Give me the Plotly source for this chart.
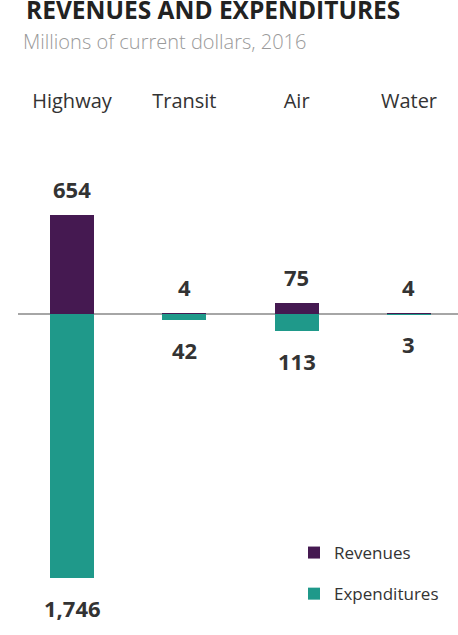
import plotly.graph_objects as go

categories = ["Highway", "Transit", "Air", "Water"]
revenues = [654, 4, 75, 4]
expenditures = [1746, 42, 113, 3]

REV_COLOR = "#451951"
EXP_COLOR = "#1f998a"
FONT = "Open Sans"

W, H = 458, 635
L, R, T, B = 18, 0, 113, 0
ZERO_PX = 314
PX_PER_UNIT = 99 / 654

ymax = (ZERO_PX - T) / PX_PER_UNIT
ymin = -((H - B) - ZERO_PX) / PX_PER_UNIT

fig = go.Figure()
fig.add_trace(go.Bar(
    x=list(range(len(categories))), y=revenues, name="Revenues",
    marker=dict(color=REV_COLOR, line=dict(width=0)), width=0.392,
    legendgroup="r", hoverinfo="skip",
))
fig.add_trace(go.Bar(
    x=list(range(len(categories))), y=[-v for v in expenditures], name="Expenditures",
    marker=dict(color=EXP_COLOR, line=dict(width=0)), width=0.392,
    legendgroup="e", hoverinfo="skip",
))

label_font = dict(family=FONT, size=22, color="#333333", weight="bold")
annotations = []
for i, v in enumerate(revenues):
    annotations.append(dict(x=i, y=v, xref="x", yref="y", text=f"{v:,}",
                            showarrow=False, yshift=26, yanchor="middle", font=label_font))
for i, v in enumerate(expenditures):
    annotations.append(dict(x=i, y=-v, xref="x", yref="y", text=f"{v:,}",
                            showarrow=False, yshift=-30, yanchor="middle", font=label_font))

plot_h = H - T - B
annotations.append(dict(
    x=(21 - L) / (W - L - R), y=(H - B - 42) / plot_h, xref="paper", yref="paper",
    xanchor="left", yanchor="middle", showarrow=False,
    text="Millions of current dollars, 2016",
    font=dict(family=FONT, size=20, color="#9a9a9a", weight=300),
))

fig.update_layout(
    width=W, height=H,
    margin=dict(l=L, r=R, t=T, b=B, pad=0),
    paper_bgcolor="white", plot_bgcolor="white",
    barmode="relative", bargap=0,
    title=dict(text="REVENUES AND EXPENDITURES", x=26 / W, xanchor="left",
               y=1 - 10 / H, yanchor="middle", yref="container",
               font=dict(family=FONT, size=24.5, color="#222222", weight="bold")),
    xaxis=dict(range=[(18 - 72) / 112.33, (458 - 72) / 112.33],
               tickmode="array", tickvals=list(range(len(categories))), ticktext=categories,
               side="top", showgrid=False, zeroline=False, showline=False, ticks="",
               tickfont=dict(family=FONT, size=20, color="#333333")),
    yaxis=dict(range=[ymin, ymax], showgrid=False, showticklabels=False,
               zeroline=True, zerolinecolor="#a6a6a6", zerolinewidth=2, showline=False,
               layer="above traces"),
    legend=dict(x=(294 - L) / (W - L - R), y=(H - B - 535) / plot_h, xanchor="left", yanchor="top",
                traceorder="grouped", tracegroupgap=16,
                font=dict(family=FONT, size=17, color="#333333"), bgcolor="rgba(0,0,0,0)"),
    annotations=annotations,
)

fig.write_html("out.html", config={"displayModeBar": False},
               post_script="document.body.style.margin='0';")
